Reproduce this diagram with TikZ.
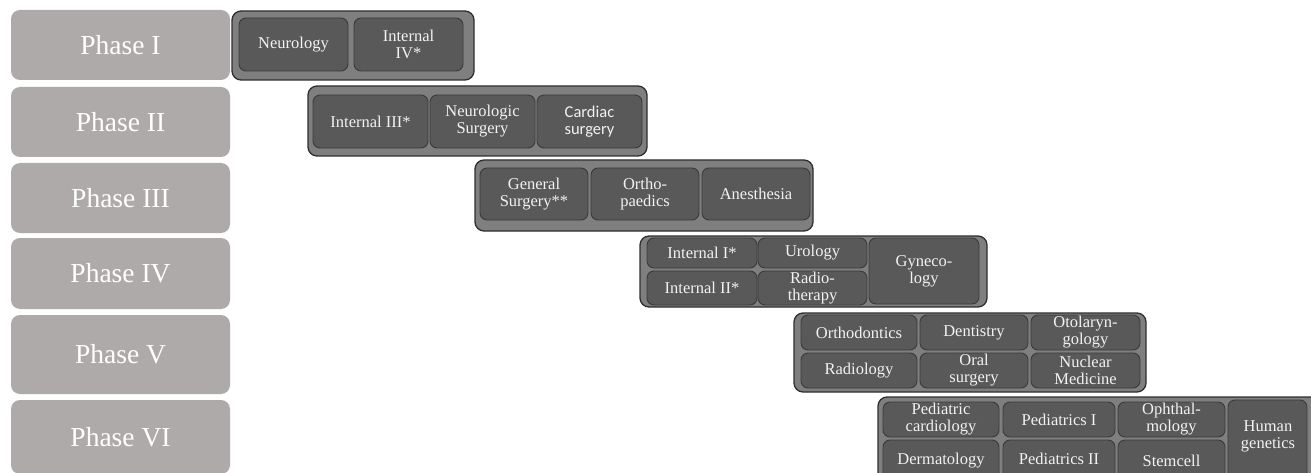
\documentclass[tikz,border=0pt]{standalone}
\usepackage{fontspec}
\setmainfont{Liberation Serif}
\newfontfamily\carl{Carlito}
\definecolor{phasefill}{HTML}{AEAAAA}
\definecolor{grpfill}{HTML}{7F7F7F}
\definecolor{grpline}{HTML}{2E2E2E}
\definecolor{cellfill}{HTML}{595959}
\definecolor{cellline}{HTML}{3A3A3A}
\definecolor{txt}{HTML}{F2F2F2}
\tikzset{
  phasebox/.style={fill=phasefill, draw=none, rounded corners=9pt, text=white, font=\fontsize{27.5}{29}\selectfont},
  grpbox/.style={fill=grpfill, draw=grpline, line width=1.3pt, rounded corners=9pt},
  cellbox/.style={fill=cellfill, draw=cellline, line width=0.9pt, rounded corners=7pt, text=txt, font=\fontsize{16.5}{17}\selectfont},
  celltxt/.style={text=txt, font=\fontsize{16.5}{17}\selectfont, inner sep=0pt, align=center},
}
\newcommand\bx[7]{\node[#6, inner sep=0pt, outer sep=0pt, align=center, anchor=north west,
  minimum width={(#4-#2)*1pt}, minimum height={(#5-#3)*1pt}] (#1) at (#2,#3) {#7};}
\begin{document}
\begin{tikzpicture}[x=1pt,y=-1pt]
\useasboundingbox (0,0) rectangle (1311,473);
\clip (0,0) rectangle (1311,473);
% phases
\bx{p1}{11}{10}{230}{80}{phasebox}{Phase I}
\bx{p2}{11}{87}{230}{157}{phasebox}{Phase II}
\bx{p3}{11}{163}{230}{233}{phasebox}{Phase III}
\bx{p4}{11}{238}{230}{309}{phasebox}{Phase IV}
\bx{p5}{11}{315}{230}{394}{phasebox}{Phase V}
\bx{p6}{11}{400}{230}{474}{phasebox}{Phase VI}
% group I
\bx{g1}{232}{11}{474}{80}{grpbox}{}
\bx{neu}{239}{18}{348}{71}{cellbox}{Neurology}
\bx{i4}{354}{18}{463}{71}{cellbox}{Internal\\IV*}
% group II
\bx{g2}{308}{86}{647}{156}{grpbox}{}
\bx{i3}{313}{95}{428}{148}{cellbox}{Internal III*}
\bx{nsu}{430}{95}{535}{148}{cellbox}{Neurologic\\Surgery}
\bx{car}{537}{95}{642}{148}{cellbox}{\carl Cardiac\\\carl surgery}
% group III
\bx{g3}{475}{160}{813}{231}{grpbox}{}
\bx{gen}{480}{168}{588}{220}{cellbox}{General\\Surgery**}
\bx{ort}{591}{168}{699}{220}{cellbox}{Ortho-\\paedics}
\bx{ane}{702}{168}{810}{220}{cellbox}{Anesthesia}
% group IV
\bx{g4}{640}{236}{987}{307}{grpbox}{}
\bx{i1}{647}{238}{757}{268}{cellbox}{Internal I*}
\bx{i2}{647}{271}{757}{305}{cellbox}{Internal II*}
\bx{uro}{758}{238}{867}{268}{cellbox}{Urology}
\bx{rad}{758}{271}{867}{305}{cellbox}{Radio-\\therapy}
\bx{gyn}{869}{238}{979}{304}{cellbox}{Gyneco-\\logy}
% group V
\bx{g5}{794}{313}{1146}{392}{grpbox}{}
\bx{odo}{801}{315}{917}{350}{cellbox}{Orthodontics}
\bx{rdl}{801}{353}{917}{388}{cellbox}{Radiology}
\bx{den}{920}{315}{1028}{350}{cellbox}{Dentistry}
\bx{ors}{920}{353}{1028}{388}{cellbox}{Oral\\surgery}
\bx{oto}{1031}{315}{1140}{350}{cellbox}{Otolaryn-\\gology}
\bx{nuc}{1031}{353}{1140}{388}{cellbox}{Nuclear\\Medicine}
% group VI
\bx{g6}{878}{397}{1330}{490}{grpbox}{}
\bx{pca}{883}{402}{999}{437}{cellbox}{Pediatric\\cardiology}
\bx{der}{883}{440}{999}{482}{cellbox}{Dermatology}
\bx{pe1}{1003}{402}{1115}{437}{cellbox}{Pediatrics I}
\bx{pe2}{1003}{440}{1115}{482}{cellbox}{\raisebox{5pt}{Pediatrics II}}
\bx{oph}{1118}{402}{1225}{437}{cellbox}{Ophthal-\\mology}
\bx{stc}{1118}{440}{1225}{482}{cellbox}{Stemcell}
\bx{hum}{1228}{400}{1307}{490}{cellbox}{}
\node[celltxt] (humt) at (1268,436) {Human\\genetics};
\end{tikzpicture}
\end{document}
